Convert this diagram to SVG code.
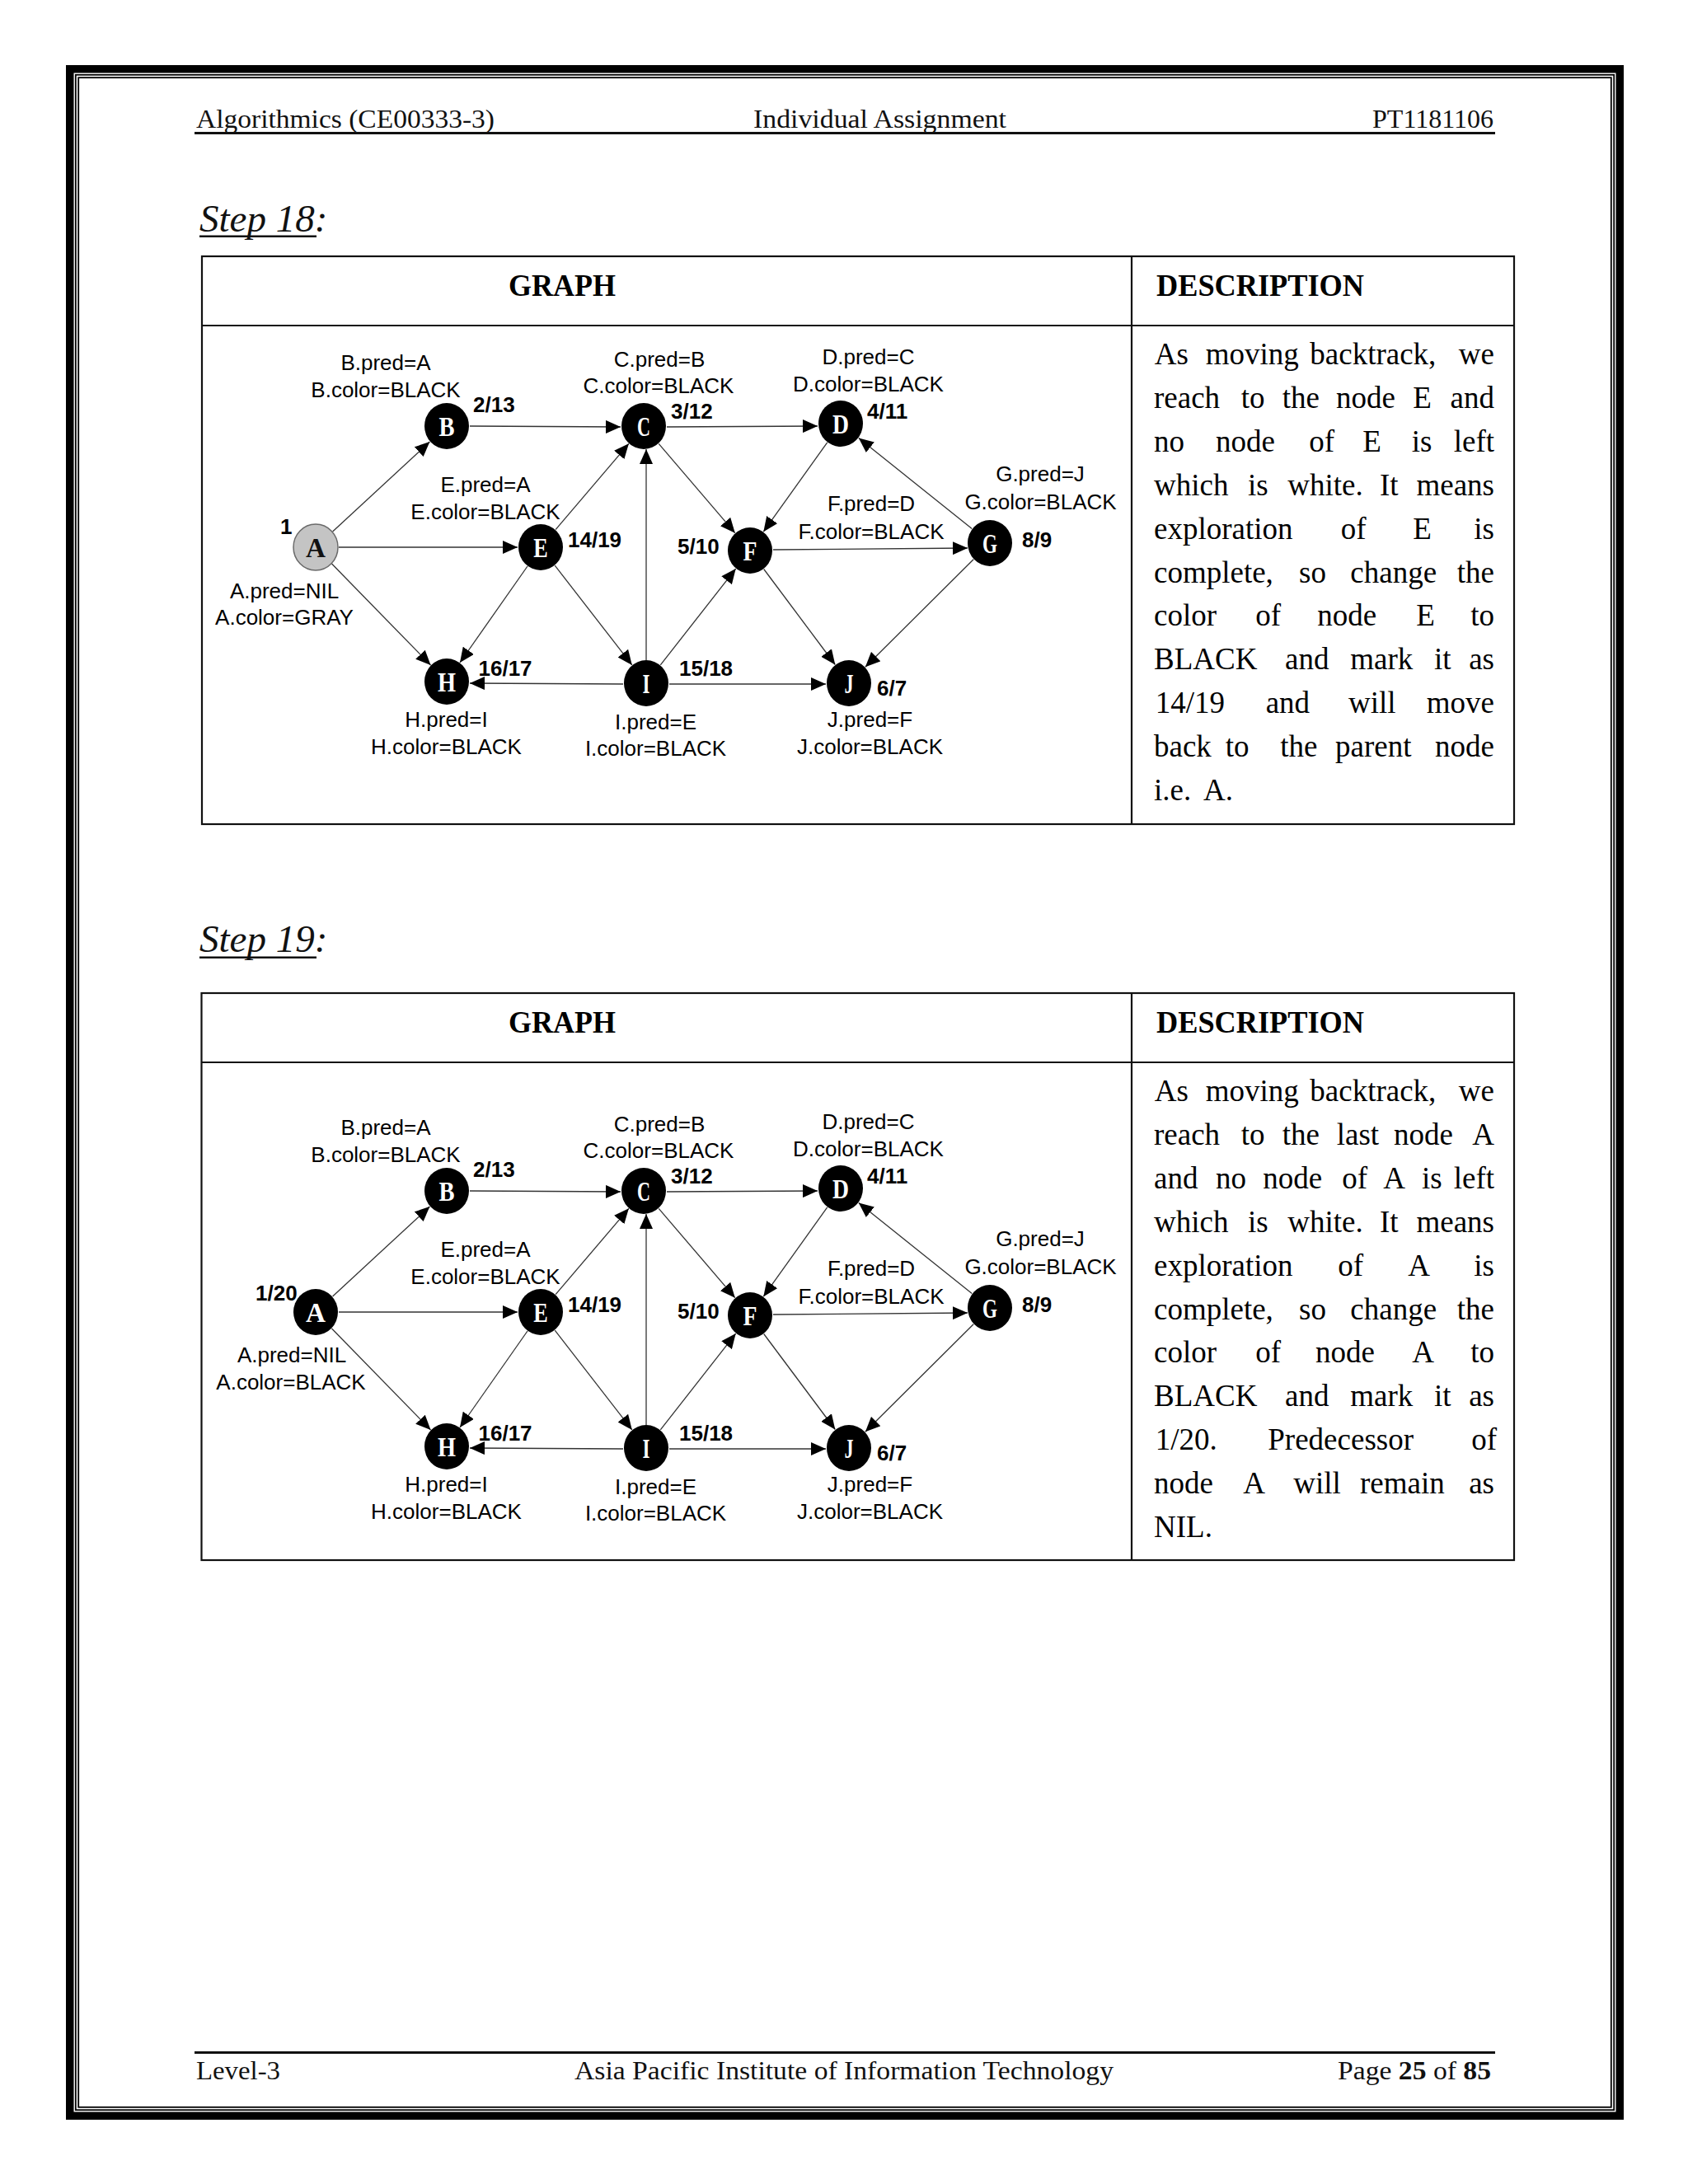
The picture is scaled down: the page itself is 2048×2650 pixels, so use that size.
<svg xmlns="http://www.w3.org/2000/svg" width="2048" height="2650" viewBox="0 0 2048 2650">
<style>
.hdr{font-family:"Liberation Serif","Times New Roman",serif;font-size:32px;fill:#111}
.title{font-family:"Liberation Serif","Times New Roman",serif;font-size:47px;font-style:italic;fill:#111}
.th{font-family:"Liberation Serif","Times New Roman",serif;font-size:37px;font-weight:bold;fill:#000}
.desc{font-family:"Liberation Serif","Times New Roman",serif;font-size:37px;fill:#000}
.desc-end{font-family:"Liberation Serif","Times New Roman",serif;font-size:37px;fill:#000;text-anchor:end}
.lbl{font-family:"Liberation Sans",Arial,sans-serif;font-size:26px;fill:#000;text-anchor:middle}
.num{font-family:"Liberation Sans",Arial,sans-serif;font-size:26px;font-weight:bold;fill:#000}
.nl{font-family:"Liberation Serif","Times New Roman",serif;font-size:33px;font-weight:bold;fill:#fff;text-anchor:middle}
.nl-dark{font-family:"Liberation Serif","Times New Roman",serif;font-size:33px;font-weight:bold;fill:#111;text-anchor:middle}
.edge{stroke:#333;stroke-width:1.3;fill:none;marker-end:url(#arr)}
.node{fill:#000}
.node-gray{fill:#c4c4c4;stroke:#6a6a6a;stroke-width:1.5}
.tbl{fill:none;stroke:#111;stroke-width:2.2}
.rule{fill:#111}
</style>
<defs>
<marker id="arr" markerUnits="userSpaceOnUse" markerWidth="18" markerHeight="16" refX="18" refY="8" orient="auto">
<path d="M0,0 L18,8 L0,16 Z" fill="#000"/>
</marker>
</defs>
<rect width="2048" height="2650" fill="#fff"/>

<!-- page frame -->
<g id="frame" fill="none" stroke="#000">
<rect x="84.75" y="83.75" width="1880.5" height="2483.5" stroke-width="9.5"/>
<rect x="91.8" y="90.8" width="1866.4" height="2469.4" stroke-width="1.8"/>
<rect x="95.2" y="94.2" width="1859.6" height="2462.6" stroke-width="1.8"/>
</g>

<!-- page header / footer -->
<g id="page-header">
<text class="hdr" x="238" y="155" textLength="362" lengthAdjust="spacingAndGlyphs">Algorithmics (CE00333-3)</text>
<text class="hdr" x="914" y="155" textLength="307" lengthAdjust="spacingAndGlyphs">Individual Assignment</text>
<text class="hdr" x="1812" y="155" text-anchor="end">PT1181106</text>
<rect class="rule" x="236" y="160" width="1578" height="3"/>
</g>
<g id="page-footer">
<rect class="rule" x="236" y="2489" width="1578" height="3"/>
<text class="hdr" x="238" y="2523" textLength="102" lengthAdjust="spacingAndGlyphs">Level-3</text>
<text class="hdr" x="697" y="2523" textLength="654" lengthAdjust="spacingAndGlyphs">Asia Pacific Institute of Information Technology</text>
<text class="hdr" x="1623" y="2523" textLength="186" lengthAdjust="spacingAndGlyphs">Page <tspan font-weight="bold">25</tspan> of <tspan font-weight="bold">85</tspan></text>
</g>

<!-- ================= STEP 18 ================= -->
<g id="step18-title">
<text class="title" x="242" y="281">Step 18:</text>
<rect class="rule" x="242" y="285.5" width="142" height="2.5"/>
</g>
<g id="step18-table">
<rect class="tbl" x="245" y="311" width="1592" height="689"/>
<line class="tbl" x1="245" y1="395" x2="1837" y2="395"/>
<line class="tbl" x1="1373" y1="311" x2="1373" y2="1000"/>
<text class="th" x="617" y="359" textLength="130" lengthAdjust="spacingAndGlyphs">GRAPH</text>
<text class="th" x="1403" y="359" textLength="252" lengthAdjust="spacingAndGlyphs">DESCRIPTION</text>
</g>
<g id="step18-description">
<text class="desc" y="442"><tspan x="1400.7">As</tspan><tspan x="1462.7">moving</tspan><tspan x="1589.3">backtrack,</tspan></text><text class="desc-end" x="1813" y="442">we</text>
<text class="desc" y="495"><tspan x="1400">reach</tspan><tspan x="1505.7">to</tspan><tspan x="1555.7">the</tspan><tspan x="1621">node</tspan><tspan x="1714.3">E</tspan></text><text class="desc-end" x="1813" y="495">and</text>
<text class="desc" y="548"><tspan x="1400">no</tspan><tspan x="1475">node</tspan><tspan x="1588.3">of</tspan><tspan x="1653.3">E</tspan><tspan x="1712.7">is</tspan></text><text class="desc-end" x="1813" y="548">left</text>
<text class="desc" y="601"><tspan x="1400">which</tspan><tspan x="1514">is</tspan><tspan x="1562.3">white.</tspan><tspan x="1674">It</tspan></text><text class="desc-end" x="1813" y="601">means</text>
<text class="desc" y="654"><tspan x="1400">exploration</tspan><tspan x="1626.7">of</tspan><tspan x="1714.3">E</tspan></text><text class="desc-end" x="1813" y="654">is</text>
<text class="desc" y="707"><tspan x="1400">complete,</tspan><tspan x="1576">so</tspan><tspan x="1638.3">change</tspan></text><text class="desc-end" x="1813" y="707">the</text>
<text class="desc" y="759"><tspan x="1400">color</tspan><tspan x="1523.3">of</tspan><tspan x="1598.3">node</tspan><tspan x="1718.3">E</tspan></text><text class="desc-end" x="1813" y="759">to</text>
<text class="desc" y="812"><tspan x="1400">BLACK</tspan><tspan x="1559">and</tspan><tspan x="1638.3">mark</tspan><tspan x="1740">it</tspan></text><text class="desc-end" x="1813" y="812">as</text>
<text class="desc" y="865"><tspan x="1401.7">14/19</tspan><tspan x="1535.7">and</tspan><tspan x="1636">will</tspan></text><text class="desc-end" x="1813" y="865">move</text>
<text class="desc" y="918"><tspan x="1400">back</tspan><tspan x="1486.7">to</tspan><tspan x="1553.3">the</tspan><tspan x="1620">parent</tspan></text><text class="desc-end" x="1813" y="918">node</text>
<text class="desc" y="971"><tspan x="1400">i.e.</tspan><tspan x="1460">A.</tspan></text>
</g>

<g id="step18-graph">
<g id="s18-edges">
<path class="edge" d="M403.6,645 L521.4,536"/>
<path class="edge" d="M411,664 L628,664"/>
<path class="edge" d="M402.5,684 L522.5,807"/>
<path class="edge" d="M570,517 L753,518"/>
<path class="edge" d="M674.1,642.7 L762.9,538.3"/>
<path class="edge" d="M784,801 L784,545"/>
<path class="edge" d="M809,518 L992,517"/>
<path class="edge" d="M799.2,538.3 L891.8,646.7"/>
<path class="edge" d="M1003.7,536.8 L926.3,645.2"/>
<path class="edge" d="M1179.2,641.5 L1041.8,531.5"/>
<path class="edge" d="M938,667 L1174,665"/>
<path class="edge" d="M640,687 L558,804"/>
<path class="edge" d="M673.2,686.1 L766.8,806.9"/>
<path class="edge" d="M756,830 L570,829"/>
<path class="edge" d="M801.3,806.9 L892.7,690.1"/>
<path class="edge" d="M812,830 L1002,830"/>
<path class="edge" d="M926.7,690.5 L1013.3,806.5"/>
<path class="edge" d="M1181.1,678.7 L1049.9,809.3"/>
</g>
<g id="s18-A"><ellipse class="node-gray" cx="383" cy="664" rx="27" ry="28"/><text class="nl-dark" x="383" y="676" textLength="24" lengthAdjust="spacingAndGlyphs">A</text>
<text class="num" x="340" y="648">1</text>
<text class="lbl" x="345" y="726">A.pred=NIL</text><text class="lbl" x="345" y="758">A.color=GRAY</text></g>
<g id="s18-B"><ellipse class="node" cx="542" cy="517" rx="27" ry="28"/><text class="nl" x="542" y="529" textLength="19" lengthAdjust="spacingAndGlyphs">B</text>
<text class="num" x="574" y="500">2/13</text>
<text class="lbl" x="468" y="448.5">B.pred=A</text><text class="lbl" x="468" y="481.5">B.color=BLACK</text></g>
<g id="s18-C"><ellipse class="node" cx="781" cy="517" rx="27" ry="28"/><text class="nl" x="781" y="529" textLength="16" lengthAdjust="spacingAndGlyphs">C</text>
<text class="num" x="814" y="507.5">3/12</text>
<text class="lbl" x="800" y="444.5">C.pred=B</text><text class="lbl" x="799" y="477">C.color=BLACK</text></g>
<g id="s18-D"><ellipse class="node" cx="1020" cy="514" rx="27" ry="28"/><text class="nl" x="1020" y="526" textLength="20" lengthAdjust="spacingAndGlyphs">D</text>
<text class="num" x="1052" y="508">4/11</text>
<text class="lbl" x="1053.5" y="441.5">D.pred=C</text><text class="lbl" x="1053.5" y="475">D.color=BLACK</text></g>
<g id="s18-E"><ellipse class="node" cx="656" cy="664" rx="27" ry="28"/><text class="nl" x="656" y="676" textLength="17.5" lengthAdjust="spacingAndGlyphs">E</text>
<text class="num" x="689" y="664">14/19</text>
<text class="lbl" x="589" y="597">E.pred=A</text><text class="lbl" x="589" y="629.5">E.color=BLACK</text></g>
<g id="s18-F"><ellipse class="node" cx="910" cy="668" rx="27" ry="28"/><text class="nl" x="910" y="680" textLength="17" lengthAdjust="spacingAndGlyphs">F</text>
<text class="num" x="822" y="672">5/10</text>
<text class="lbl" x="1057" y="620">F.pred=D</text><text class="lbl" x="1057" y="654">F.color=BLACK</text></g>
<g id="s18-G"><ellipse class="node" cx="1201" cy="659" rx="27" ry="28"/><text class="nl" x="1201" y="671" textLength="18" lengthAdjust="spacingAndGlyphs">G</text>
<text class="num" x="1240" y="664">8/9</text>
<text class="lbl" x="1262" y="584">G.pred=J</text><text class="lbl" x="1262.5" y="617.5">G.color=BLACK</text></g>
<g id="s18-H"><ellipse class="node" cx="542" cy="827" rx="27" ry="28"/><text class="nl" x="542" y="839" textLength="22" lengthAdjust="spacingAndGlyphs">H</text>
<text class="num" x="580.5" y="820">16/17</text>
<text class="lbl" x="541.5" y="881.7">H.pred=I</text><text class="lbl" x="541.5" y="915">H.color=BLACK</text></g>
<g id="s18-I"><ellipse class="node" cx="784" cy="829" rx="27" ry="28"/><text class="nl" x="784" y="841" textLength="9" lengthAdjust="spacingAndGlyphs">I</text>
<text class="num" x="824" y="820">15/18</text>
<text class="lbl" x="795.5" y="885">I.pred=E</text><text class="lbl" x="795.5" y="917.3">I.color=BLACK</text></g>
<g id="s18-J"><ellipse class="node" cx="1030" cy="829" rx="27" ry="28"/><text class="nl" x="1030" y="841" textLength="11" lengthAdjust="spacingAndGlyphs">J</text>
<text class="num" x="1064" y="843.5">6/7</text>
<text class="lbl" x="1055.5" y="881.7">J.pred=F</text><text class="lbl" x="1055.5" y="915">J.color=BLACK</text></g>
</g>

<!-- ================= STEP 19 ================= -->
<g id="step19-title">
<text class="title" x="242" y="1155">Step 19:</text>
<rect class="rule" x="242" y="1160.5" width="142" height="2.5"/>
</g>
<g id="step19-table">
<rect class="tbl" x="244.5" y="1205" width="1592.5" height="688"/>
<line class="tbl" x1="244.5" y1="1289" x2="1837" y2="1289"/>
<line class="tbl" x1="1373" y1="1205" x2="1373" y2="1893"/>
<text class="th" x="617" y="1253" textLength="130" lengthAdjust="spacingAndGlyphs">GRAPH</text>
<text class="th" x="1403" y="1253" textLength="252" lengthAdjust="spacingAndGlyphs">DESCRIPTION</text>
</g>
<g id="step19-description">
<text class="desc" y="1336"><tspan x="1400.7">As</tspan><tspan x="1462.7">moving</tspan><tspan x="1589.3">backtrack,</tspan></text><text class="desc-end" x="1813" y="1336">we</text>
<text class="desc" y="1389"><tspan x="1400">reach</tspan><tspan x="1505.7">to</tspan><tspan x="1555.7">the</tspan><tspan x="1621.7">last</tspan><tspan x="1691">node</tspan></text><text class="desc-end" x="1813" y="1389">A</text>
<text class="desc" y="1442"><tspan x="1400">and</tspan><tspan x="1475">no</tspan><tspan x="1532.3">node</tspan><tspan x="1628.3">of</tspan><tspan x="1678.3">A</tspan><tspan x="1725">is</tspan></text><text class="desc-end" x="1813" y="1442">left</text>
<text class="desc" y="1495"><tspan x="1400">which</tspan><tspan x="1514">is</tspan><tspan x="1562.3">white.</tspan><tspan x="1674">It</tspan></text><text class="desc-end" x="1813" y="1495">means</text>
<text class="desc" y="1548"><tspan x="1400">exploration</tspan><tspan x="1623.3">of</tspan><tspan x="1708.3">A</tspan></text><text class="desc-end" x="1813" y="1548">is</text>
<text class="desc" y="1601"><tspan x="1400">complete,</tspan><tspan x="1576">so</tspan><tspan x="1638.3">change</tspan></text><text class="desc-end" x="1813" y="1601">the</text>
<text class="desc" y="1653"><tspan x="1400">color</tspan><tspan x="1523.3">of</tspan><tspan x="1596">node</tspan><tspan x="1713.3">A</tspan></text><text class="desc-end" x="1813" y="1653">to</text>
<text class="desc" y="1706"><tspan x="1400">BLACK</tspan><tspan x="1559">and</tspan><tspan x="1638.3">mark</tspan><tspan x="1740">it</tspan></text><text class="desc-end" x="1813" y="1706">as</text>
<text class="desc" y="1759"><tspan x="1401.7">1/20.</tspan><tspan x="1538.3">Predecessor</tspan></text><text class="desc-end" x="1816" y="1759">of</text>
<text class="desc" y="1812"><tspan x="1400">node</tspan><tspan x="1508.3">A</tspan><tspan x="1569.3">will</tspan><tspan x="1650">remain</tspan></text><text class="desc-end" x="1813" y="1812">as</text>
<text class="desc" y="1865"><tspan x="1400">NIL.</tspan></text>
</g>

<g id="step19-graph" transform="translate(0,928)">
<g id="s19-edges">
<path class="edge" d="M403.6,645 L521.4,536"/>
<path class="edge" d="M411,664 L628,664"/>
<path class="edge" d="M402.5,684 L522.5,807"/>
<path class="edge" d="M570,517 L753,518"/>
<path class="edge" d="M674.1,642.7 L762.9,538.3"/>
<path class="edge" d="M784,801 L784,545"/>
<path class="edge" d="M809,518 L992,517"/>
<path class="edge" d="M799.2,538.3 L891.8,646.7"/>
<path class="edge" d="M1003.7,536.8 L926.3,645.2"/>
<path class="edge" d="M1179.2,641.5 L1041.8,531.5"/>
<path class="edge" d="M938,667 L1174,665"/>
<path class="edge" d="M640,687 L558,804"/>
<path class="edge" d="M673.2,686.1 L766.8,806.9"/>
<path class="edge" d="M756,830 L570,829"/>
<path class="edge" d="M801.3,806.9 L892.7,690.1"/>
<path class="edge" d="M812,830 L1002,830"/>
<path class="edge" d="M926.7,690.5 L1013.3,806.5"/>
<path class="edge" d="M1181.1,678.7 L1049.9,809.3"/>
</g>
<g id="s19-A"><ellipse class="node" cx="383" cy="664" rx="27" ry="28"/><text class="nl" x="383" y="676" textLength="24" lengthAdjust="spacingAndGlyphs">A</text>
<text class="num" x="310" y="650">1/20</text>
<text class="lbl" x="354" y="725">A.pred=NIL</text><text class="lbl" x="353" y="758">A.color=BLACK</text></g>
<g id="s19-B"><ellipse class="node" cx="542" cy="517" rx="27" ry="28"/><text class="nl" x="542" y="529" textLength="19" lengthAdjust="spacingAndGlyphs">B</text>
<text class="num" x="574" y="500">2/13</text>
<text class="lbl" x="468" y="448.5">B.pred=A</text><text class="lbl" x="468" y="481.5">B.color=BLACK</text></g>
<g id="s19-C"><ellipse class="node" cx="781" cy="517" rx="27" ry="28"/><text class="nl" x="781" y="529" textLength="16" lengthAdjust="spacingAndGlyphs">C</text>
<text class="num" x="814" y="507.5">3/12</text>
<text class="lbl" x="800" y="444.5">C.pred=B</text><text class="lbl" x="799" y="477">C.color=BLACK</text></g>
<g id="s19-D"><ellipse class="node" cx="1020" cy="514" rx="27" ry="28"/><text class="nl" x="1020" y="526" textLength="20" lengthAdjust="spacingAndGlyphs">D</text>
<text class="num" x="1052" y="508">4/11</text>
<text class="lbl" x="1053.5" y="441.5">D.pred=C</text><text class="lbl" x="1053.5" y="475">D.color=BLACK</text></g>
<g id="s19-E"><ellipse class="node" cx="656" cy="664" rx="27" ry="28"/><text class="nl" x="656" y="676" textLength="17.5" lengthAdjust="spacingAndGlyphs">E</text>
<text class="num" x="689" y="664">14/19</text>
<text class="lbl" x="589" y="597">E.pred=A</text><text class="lbl" x="589" y="629.5">E.color=BLACK</text></g>
<g id="s19-F"><ellipse class="node" cx="910" cy="668" rx="27" ry="28"/><text class="nl" x="910" y="680" textLength="17" lengthAdjust="spacingAndGlyphs">F</text>
<text class="num" x="822" y="672">5/10</text>
<text class="lbl" x="1057" y="620">F.pred=D</text><text class="lbl" x="1057" y="654">F.color=BLACK</text></g>
<g id="s19-G"><ellipse class="node" cx="1201" cy="659" rx="27" ry="28"/><text class="nl" x="1201" y="671" textLength="18" lengthAdjust="spacingAndGlyphs">G</text>
<text class="num" x="1240" y="664">8/9</text>
<text class="lbl" x="1262" y="584">G.pred=J</text><text class="lbl" x="1262.5" y="617.5">G.color=BLACK</text></g>
<g id="s19-H"><ellipse class="node" cx="542" cy="827" rx="27" ry="28"/><text class="nl" x="542" y="839" textLength="22" lengthAdjust="spacingAndGlyphs">H</text>
<text class="num" x="580.5" y="820">16/17</text>
<text class="lbl" x="541.5" y="881.7">H.pred=I</text><text class="lbl" x="541.5" y="915">H.color=BLACK</text></g>
<g id="s19-I"><ellipse class="node" cx="784" cy="829" rx="27" ry="28"/><text class="nl" x="784" y="841" textLength="9" lengthAdjust="spacingAndGlyphs">I</text>
<text class="num" x="824" y="820">15/18</text>
<text class="lbl" x="795.5" y="885">I.pred=E</text><text class="lbl" x="795.5" y="917.3">I.color=BLACK</text></g>
<g id="s19-J"><ellipse class="node" cx="1030" cy="829" rx="27" ry="28"/><text class="nl" x="1030" y="841" textLength="11" lengthAdjust="spacingAndGlyphs">J</text>
<text class="num" x="1064" y="843.5">6/7</text>
<text class="lbl" x="1055.5" y="881.7">J.pred=F</text><text class="lbl" x="1055.5" y="915">J.color=BLACK</text></g>
</g>
</svg>
